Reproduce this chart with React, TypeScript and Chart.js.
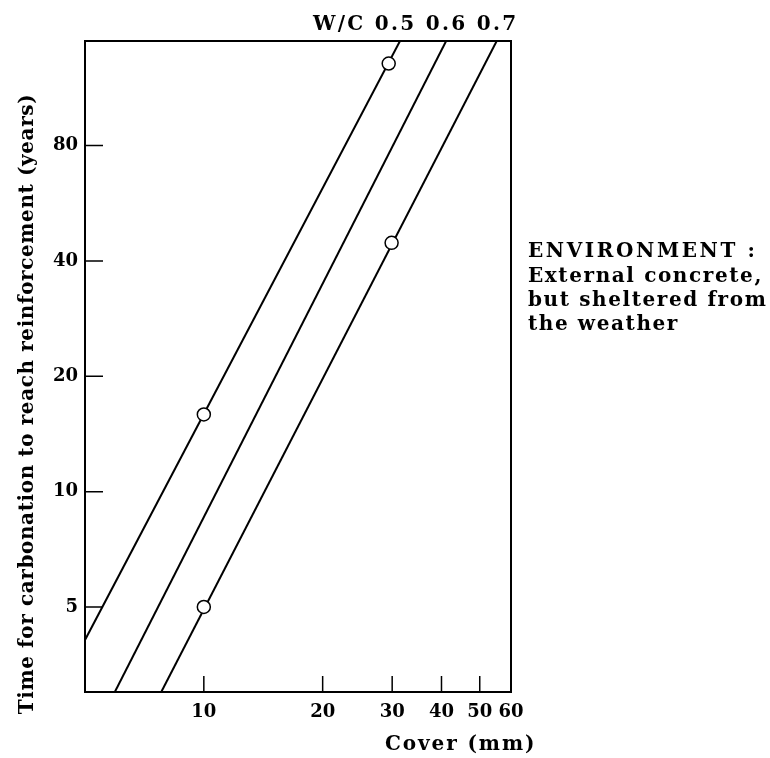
import React, { useEffect, useRef } from "react";
import { Chart, registerables } from "chart.js";

Chart.register(...registerables);

// Axis ticks
const coverTicks = [10, 20, 30, 40, 50, 60];
const timeTicks = [5, 10, 20, 40, 80];

// W/C ratio series labels
const wcLabels = ["0.5", "0.6", "0.7"];

// Lines (cover mm, time years)
const line05Cover = [5, 31.4];
const line05Time = [4.1, 150];
const line06Cover = [5.95, 41.1];
const line06Time = [3, 150];
const line07Cover = [7.8, 55.2];
const line07Time = [3, 150];

// Open circle markers
const markerCover = [10, 29.4, 10, 29.9];
const markerTime = [15.9, 131, 5, 44.6];

// Annotation text
const envLines = ["ENVIRONMENT :", "External concrete,", "but sheltered from", "the weather"];
const yTitle = "Time for carbonation to reach reinforcement (years)";
const xTitle = "Cover (mm)";

const FONT = "'DejaVu Serif', serif";

const toPts = (xs: number[], ys: number[]) => xs.map((x, i) => ({ x, y: ys[i] }));

const decorPlugin = {
  id: "decor",
  afterDraw(chart: any) {
    const { ctx, chartArea: a, scales } = chart;
    const xs = scales.x;
    const ys = scales.y;
    ctx.save();
    ctx.strokeStyle = "#000";
    ctx.lineWidth = 2;
    ctx.strokeRect(a.left, a.top, a.right - a.left, a.bottom - a.top);
    // inward ticks
    ctx.lineWidth = 1.5;
    ctx.beginPath();
    timeTicks.forEach((v) => {
      const y = ys.getPixelForValue(v);
      ctx.moveTo(a.left, y);
      ctx.lineTo(a.left + 18, y);
    });
    coverTicks.forEach((v) => {
      if (v >= xs.max) return;
      const x = xs.getPixelForValue(v);
      ctx.moveTo(x, a.bottom);
      ctx.lineTo(x, a.bottom - 16);
    });
    ctx.stroke();

    ctx.fillStyle = "#000";
    ctx.textAlign = "left";
    ctx.textBaseline = "alphabetic";
    // W/C header
    ctx.font = `bold 20px ${FONT}`;
    (ctx as any).letterSpacing = "2.3px";
    ctx.fillText(`W/C ${wcLabels.join(" ")}`, 313, 30);

    // Environment note
    ctx.font = `bold 20px ${FONT}`;
    const envBase = [257, 282, 306, 330];
    envLines.forEach((t, i) => {
      (ctx as any).letterSpacing = i === 0 ? "2.6px" : "1.6px";
      ctx.fillText(t, 528, envBase[i]);
    });

    // X title
    ctx.font = `bold 20px ${FONT}`;
    (ctx as any).letterSpacing = "1.9px";
    ctx.fillText(xTitle, 385, 750);

    // Y title
    ctx.save();
    ctx.translate(33, 404);
    ctx.rotate(-Math.PI / 2);
    ctx.textAlign = "center";
    ctx.font = `bold 20px ${FONT}`;
    (ctx as any).letterSpacing = "0.6px";
    ctx.fillText(yTitle, 0, 0);
    ctx.restore();

    ctx.restore();
  },
};

export default function App() {
  const ref = useRef<HTMLCanvasElement | null>(null);
  useEffect(() => {
    if (!ref.current) return;
    const tickFont = { family: FONT, size: 18, weight: "bold" as const };
    const chart = new Chart(ref.current, {
      type: "line",
      data: {
        datasets: [
          {
            type: "scatter" as any,
            data: toPts(markerCover, markerTime),
            pointRadius: 6.5,
            pointBackgroundColor: "#fff",
            pointBorderColor: "#000",
            pointBorderWidth: 1.5,
            showLine: false,
            order: 0,
          },
          {
            data: toPts(line05Cover, line05Time),
            borderColor: "#000",
            borderWidth: 2,
            pointRadius: 0,
            order: 1,
          },
          {
            data: toPts(line06Cover, line06Time),
            borderColor: "#000",
            borderWidth: 2,
            pointRadius: 0,
            order: 1,
          },
          {
            data: toPts(line07Cover, line07Time),
            borderColor: "#000",
            borderWidth: 2,
            pointRadius: 0,
            order: 1,
          },
        ],
      },
      options: {
        animation: false,
        responsive: false,
        layout: { padding: { top: 41, right: 259, left: 0, bottom: 0 } },
        plugins: { legend: { display: false }, tooltip: { enabled: false } },
        scales: {
          x: {
            type: "logarithmic",
            min: 5,
            max: 60,
            afterBuildTicks: (s: any) => {
              s.ticks = coverTicks.map((v) => ({ value: v }));
            },
            afterFit: (s: any) => {
              s.height = 66;
            },
            ticks: {
              callback: (v: any) => String(v),
              font: tickFont,
              color: "#000",
              padding: 10,
              maxRotation: 0,
              autoSkip: false,
            },
            grid: { display: false, drawTicks: false },
            border: { display: false },
          },
          y: {
            type: "logarithmic",
            min: 3,
            max: 150,
            afterBuildTicks: (s: any) => {
              s.ticks = timeTicks.map((v) => ({ value: v }));
            },
            afterFit: (s: any) => {
              s.width = 85;
            },
            ticks: {
              callback: (v: any) => String(v),
              font: tickFont,
              color: "#000",
              padding: 7,
              autoSkip: false,
            },
            grid: { display: false, drawTicks: false },
            border: { display: false },
          },
        },
      },
      plugins: [decorPlugin],
    });
    return () => chart.destroy();
  }, []);
  return (
    <div style={{ position: "absolute", left: 0, top: 0, width: 770, height: 758, background: "#fff" }}>
      <canvas ref={ref} width={770} height={758} style={{ display: "block" }} />
    </div>
  );
}
